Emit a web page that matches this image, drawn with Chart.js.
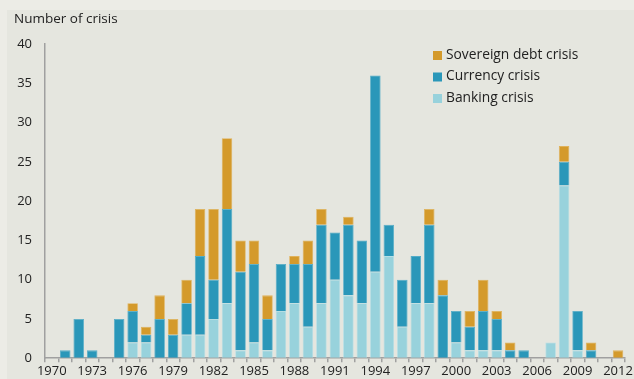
<!DOCTYPE html>
<html>
<head>
<meta charset="utf-8">
<script src="https://cdn.jsdelivr.net/npm/chart.js@4"></script>
<style>
  html, body { margin: 0; padding: 0; background: #ecece6; }
  #wrap { position: relative; width: 634px; height: 379px; }
</style>
</head>
<body>
<div id="wrap"><canvas id="crises" width="634" height="379"></canvas></div>
<script>
// years 1970 - 2012
var anos = [];
for (var a = 1970; a <= 2012; a++) anos.push(String(a));

var bancaria = [0, 0, 0, 0, 0, 0, 2, 2, 0, 0, 3, 3, 5, 7, 1, 2, 1, 6, 7, 4, 7, 10, 8, 7, 11, 13, 4, 7, 7, 0,
                2, 1, 1, 1, 0, 0, 0, 2, 22, 1, 0, 0, 0];
var cambial  = [0, 1, 5, 1, 0, 5, 4, 1, 5, 3, 4, 10, 5, 12, 10, 10, 4, 6, 5, 8, 10, 6, 9, 8, 25, 4, 6, 6, 10, 8,
                4, 3, 5, 4, 1, 1, 0, 0, 3, 5, 1, 0, 0];
var soberana = [0, 0, 0, 0, 0, 0, 1, 1, 3, 2, 3, 6, 9, 9, 4, 3, 3, 0, 1, 3, 2, 0, 1, 0, 0, 0, 0, 0, 2, 2,
                0, 2, 4, 1, 1, 0, 0, 0, 2, 0, 1, 0, 1];

var nomes = ['Banking crisis', 'Currency crisis', 'Sovereign debt crisis'];
var cores = ['#98d2dc', '#2a97b9', '#d49a2b'];

// fundo do quadro + legenda + titulo do eixo
var moldura = {
    id: 'moldura',
    beforeDraw: function(chart) {
        var ctx = chart.ctx;
        ctx.save();
        ctx.fillStyle = '#ecece6';
        ctx.fillRect(0, 0, chart.width, chart.height);
        ctx.fillStyle = '#e5e6df';
        ctx.fillRect(7, 10, chart.width - 7, chart.height - 10);
        ctx.restore();
    },
    afterDraw: function(chart) {
        var ctx = chart.ctx;
        ctx.save();
        ctx.fillStyle = '#222';
        ctx.font = '13.5px "Open Sans"';
        ctx.textBaseline = 'middle';
        ctx.fillText('Number of crisis', 14, 19);

        ctx.font = '13.8px "Open Sans"';
        var ds = chart.data.datasets;
        for (var i = ds.length - 1, linha = 0; i >= 0; i--, linha++) {
            var y = 55 + linha * 21.5;
            ctx.fillStyle = ds[i].backgroundColor;
            ctx.fillRect(433, y - 4, 9, 9);
            ctx.fillStyle = '#222';
            ctx.fillText(ds[i].label, 446, y);
        }
        ctx.restore();
    }
};

var contexto = document.getElementById('crises').getContext('2d');
var grafico = new Chart(contexto, {
    type: 'bar',
    data: {
        labels: anos,
        datasets: [
            { label: nomes[0], data: bancaria, backgroundColor: cores[0], borderColor: '#b4dfe6', borderWidth: 0.8 },
            { label: nomes[1], data: cambial,  backgroundColor: cores[1], borderColor: '#52acc8', borderWidth: 0.8 },
            { label: nomes[2], data: soberana, backgroundColor: cores[2], borderColor: '#e0b25a', borderWidth: 0.8 }
        ]
    },
    options: {
        responsive: false,
        animation: false,
        layout: { padding: { top: 44, right: 8, left: 0, bottom: 0 } },
        datasets: { bar: { categoryPercentage: 1, barPercentage: 0.78 } },
        plugins: { legend: { display: false }, tooltip: { enabled: false } },
        scales: {
            x: {
                stacked: true,
                afterFit: function(s) { s.height = 20; },
                border: { display: true, color: '#a0a0a0', width: 1.5 },
                grid: { offset: true, drawOnChartArea: false, drawTicks: true, tickLength: 4, color: '#a0a0a0', lineWidth: 1.5 },
                ticks: {
                    autoSkip: false, maxRotation: 0, padding: 1,
                    color: '#222', font: { family: 'Open Sans', size: 13 },
                    callback: function(v, i) { return i % 3 === 0 ? anos[i] : ''; }
                }
            },
            y: {
                stacked: true,
                min: 0, max: 40,
                afterFit: function(s) { s.width = 45; },
                border: { display: true, color: '#a0a0a0', width: 1.5 },
                grid: { display: true, drawOnChartArea: false, drawTicks: false },
                ticks: { stepSize: 5, padding: 13, color: '#222', font: { family: 'Open Sans', size: 13 } }
            }
        }
    },
    plugins: [moldura]
});
</script>
</body>
</html>
